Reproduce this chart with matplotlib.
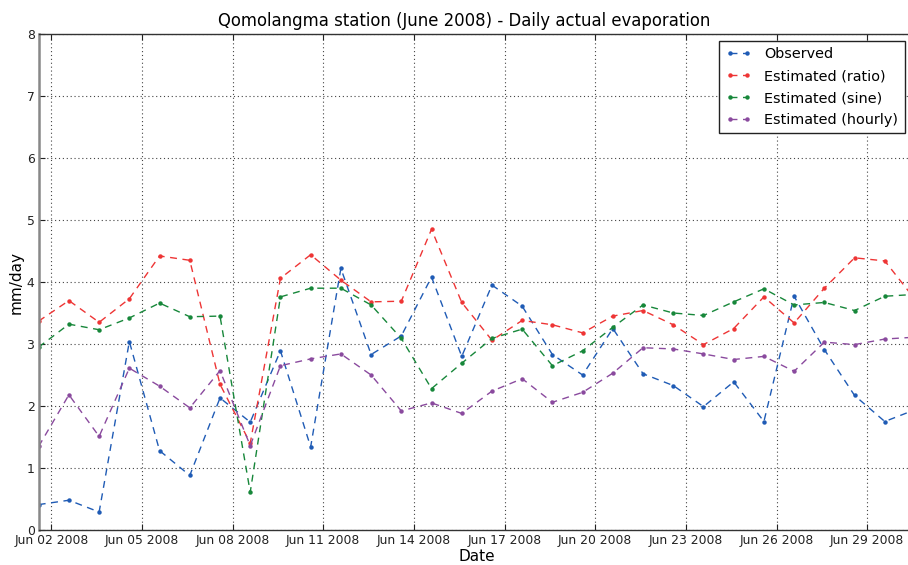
"""
Daily actual evaporation at Qomolangma station, June 2008:
observed values against three estimation methods.
"""

import datetime as dt

import matplotlib
matplotlib.use("Agg")
import matplotlib.pyplot as plt
import matplotlib.dates as mdates

# ── Data (mm/day) ─────────────────────────────────────────────
START = dt.datetime(2008, 6, 1, 14, 0)
N_DAYS = 30
dates = [START + dt.timedelta(days=i) for i in range(N_DAYS)]

observed = [0.41, 0.48, 0.29, 3.04, 1.28, 0.88, 2.13, 1.74, 2.89, 1.34,
            4.22, 2.83, 3.13, 4.08, 2.80, 3.95, 3.61, 2.83, 2.50, 3.25,
            2.52, 2.33, 1.99, 2.39, 1.75, 3.77, 2.91, 2.17, 1.75, 1.94]

est_ratio = [3.37, 3.70, 3.35, 3.73, 4.42, 4.35, 2.35, 1.40, 4.06, 4.44,
             4.03, 3.68, 3.69, 4.85, 3.67, 3.06, 3.38, 3.31, 3.18, 3.45,
             3.54, 3.31, 2.99, 3.25, 3.76, 3.34, 3.90, 4.39, 4.34, 3.72]

est_sine = [2.95, 3.32, 3.23, 3.42, 3.66, 3.44, 3.45, 0.61, 3.76, 3.90,
            3.90, 3.63, 3.09, 2.28, 2.69, 3.09, 3.24, 2.65, 2.89, 3.27,
            3.63, 3.50, 3.46, 3.68, 3.89, 3.63, 3.67, 3.54, 3.77, 3.80]

est_hourly = [1.35, 2.18, 1.51, 2.61, 2.32, 1.97, 2.57, 1.36, 2.65, 2.76,
              2.84, 2.50, 1.92, 2.05, 1.88, 2.24, 2.44, 2.06, 2.22, 2.53,
              2.94, 2.92, 2.84, 2.75, 2.80, 2.56, 3.03, 2.99, 3.08, 3.11]

series = [
    ("Observed",           observed,   "#1f5bb5"),
    ("Estimated (ratio)",  est_ratio,  "#ee3535"),
    ("Estimated (sine)",   est_sine,   "#17873a"),
    ("Estimated (hourly)", est_hourly, "#8a4a9e"),
]

# ── Figure ────────────────────────────────────────────────────
W, H, DPI = 908, 565, 100
fig = plt.figure(figsize=(W / DPI, H / DPI), dpi=DPI)
fig.patch.set_facecolor("white")

# axes run a little past the right edge of the canvas
left, right, top, bottom = 38.7, 915.0, 34.0, 530.0
ax = fig.add_axes([left / W, 1 - bottom / H,
                   (right - left) / W, (bottom - top) / H])

for label, values, color in series:
    ax.plot(dates, values, linestyle="--", dashes=(5, 4), linewidth=1.0,
            marker="o", markersize=3.2, markeredgewidth=0,
            color=color, label=label)

ax.set_xlim(dates[0], dates[-1])
ax.set_ylim(0, 8)
ax.set_yticks(range(0, 9))

ax.xaxis.set_major_locator(mdates.DayLocator(bymonthday=range(2, 31, 3)))
ax.xaxis.set_major_formatter(mdates.DateFormatter("%b %d %Y"))

ax.grid(True, linestyle=(0, (1, 2.5)), color="#444444", linewidth=0.8)
ax.tick_params(direction="in", length=4, labelsize=8.9, top=True,
               right=True, pad=3, colors="#222222")
for spine in ax.spines.values():
    spine.set_edgecolor("#333333")
    spine.set_linewidth(1.0)
ax.spines["left"].set_edgecolor("#888888")
ax.spines["left"].set_linewidth(1.8)

ax.set_xlabel("Date", fontsize=11, labelpad=1)
ax.set_ylabel("mm/day", fontsize=11, labelpad=2)
fig.text(464 / W, 1 - 26 / H, "Qomolangma station (June 2008) - Daily actual evaporation",
         ha="center", va="baseline", fontsize=11.9)

leg = ax.legend(loc="upper right", bbox_to_anchor=(905 / W, 1 - 41 / H),
                bbox_transform=fig.transFigure, borderaxespad=0,
                fontsize=10.4, numpoints=2, handlelength=1.8,
                handletextpad=0.9, labelspacing=0.54, borderpad=0.45,
                fancybox=False, framealpha=1)
leg.get_frame().set_edgecolor("#222222")
leg.get_frame().set_linewidth(1.0)

fig.savefig("out.png", dpi=DPI, facecolor=fig.get_facecolor())
plt.close(fig)
